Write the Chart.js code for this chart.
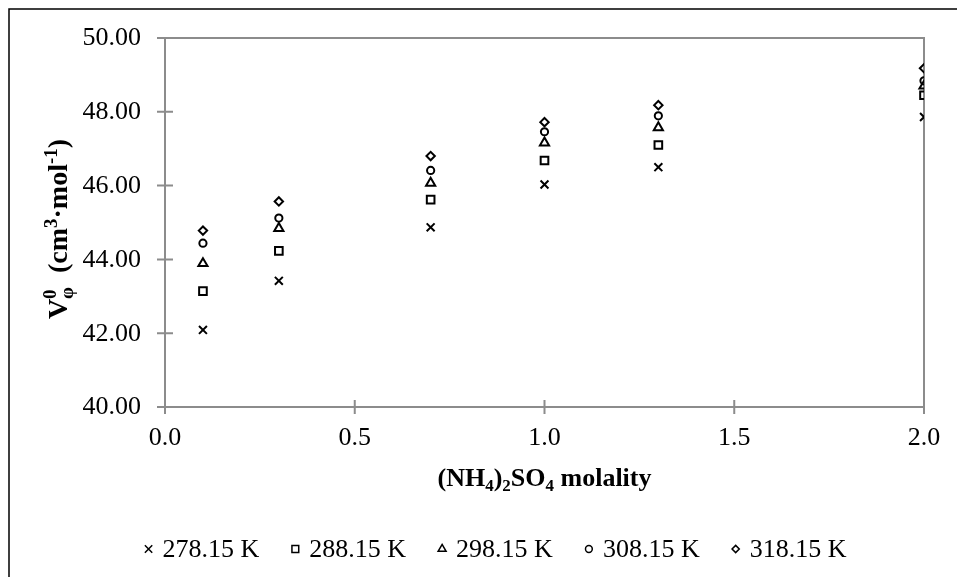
<!DOCTYPE html>
<html>
<head>
<meta charset="utf-8">
<script src="https://cdn.jsdelivr.net/npm/chart.js@4/dist/chart.umd.min.js"></script>
<style>
  html, body { margin: 0; padding: 0; background: #fff; overflow: hidden; }
  #wrap { width: 957px; height: 577px; }
</style>
</head>
<body>
<div id="wrap"><canvas id="c" width="957" height="577"></canvas></div>
<script>
// Apparent molar volume of the solute vs (NH4)2SO4 molality, one series per temperature
const molality = [0.1, 0.3, 0.7, 1.0, 1.3, 2.0];
const temperatures = ['278.15 K', '288.15 K', '298.15 K', '308.15 K', '318.15 K'];
const v278 = [42.09, 43.42, 44.87, 46.03, 46.50, 47.86];
const v288 = [43.14, 44.23, 45.62, 46.68, 47.10, 48.45];
const v298 = [43.89, 44.84, 46.07, 47.16, 47.57, 48.70];
const v308 = [44.44, 45.12, 46.41, 47.46, 47.89, 48.84];
const v318 = [44.78, 45.57, 46.80, 47.72, 48.18, 49.18];
const xTickValues = [0, 0.5, 1.0, 1.5, 2.0];
const yTickValues = [40, 42, 44, 46, 48, 50];

const series = [v278, v288, v298, v308, v318];
const markerStyles = ['crossRot', 'rect', 'triangle', 'circle', 'rectRot'];
const markerRadii = [5.6, 5.4, 5.3, 3.6, 4.2];

const SERIF = "'Liberation Serif', 'Times New Roman', serif";
const AXIS_GREY = '#8c8c8c';

function drawText(ctx, s, x, y, font, align, base) {
  ctx.save();
  ctx.font = font;
  ctx.textAlign = align;
  ctx.textBaseline = base;
  ctx.fillStyle = '#000';
  ctx.fillText(s, x, y);
  ctx.restore();
}

// Runs of text with sub/superscripts, centred on (x, y) baseline, optionally rotated
function drawRich(ctx, pieces, x, y, rot) {
  ctx.save();
  ctx.translate(x, y);
  if (rot) ctx.rotate(rot);
  ctx.fillStyle = '#000';
  ctx.textBaseline = 'alphabetic';
  ctx.textAlign = 'left';
  const widths = pieces.map(p => {
    if (p.stack) {
      return Math.max(...p.stack.map(q => { ctx.font = q.font; return ctx.measureText(q.t).width; }));
    }
    ctx.font = p.font;
    return ctx.measureText(p.t).width;
  });
  const total = widths.reduce((a, b) => a + b, 0);
  let cx = -total / 2;
  pieces.forEach((p, i) => {
    if (p.stack) {
      p.stack.forEach(q => { ctx.font = q.font; ctx.fillText(q.t, cx, q.dy || 0); });
    } else {
      ctx.font = p.font;
      ctx.fillText(p.t, cx, p.dy || 0);
    }
    cx += widths[i];
  });
  ctx.restore();
}

function drawMarker(ctx, style, r, x, y, lw) {
  ctx.save();
  ctx.strokeStyle = '#000';
  ctx.lineWidth = lw;
  ctx.beginPath();
  if (style === 'crossRot') {
    const o = r * Math.SQRT1_2;
    ctx.moveTo(x - o, y - o); ctx.lineTo(x + o, y + o);
    ctx.moveTo(x - o, y + o); ctx.lineTo(x + o, y - o);
  } else if (style === 'rect') {
    const s = r * Math.SQRT1_2;
    ctx.rect(x - s, y - s, 2 * s, 2 * s);
  } else if (style === 'triangle') {
    const h = r * Math.sqrt(3) / 2;
    ctx.moveTo(x, y - r); ctx.lineTo(x + h, y + r / 2); ctx.lineTo(x - h, y + r / 2); ctx.closePath();
  } else if (style === 'circle') {
    ctx.arc(x, y, r, 0, Math.PI * 2);
  } else if (style === 'rectRot') {
    ctx.moveTo(x, y - r); ctx.lineTo(x + r, y); ctx.lineTo(x, y + r); ctx.lineTo(x - r, y); ctx.closePath();
  }
  ctx.stroke();
  ctx.restore();
}

const framePlugin = {
  id: 'frame',
  beforeDatasetsDraw(chart) {
    const { ctx, chartArea: a, scales } = chart;
    const xs = scales.x, ys = scales.y;
    ctx.save();
    // outer chart border
    ctx.strokeStyle = '#000';
    ctx.lineWidth = 1.5;
    ctx.beginPath();
    ctx.moveTo(9, 577); ctx.lineTo(9, 9); ctx.lineTo(957, 9);
    ctx.stroke();

    // plot area border
    ctx.strokeStyle = AXIS_GREY;
    ctx.lineWidth = 2;
    ctx.strokeRect(a.left, a.top, a.right - a.left, a.bottom - a.top);

    // cross tick marks
    ctx.beginPath();
    yTickValues.forEach(v => {
      const py = ys.getPixelForValue(v);
      ctx.moveTo(a.left - 8, py); ctx.lineTo(a.left + 8, py);
    });
    xTickValues.forEach(v => {
      const px = xs.getPixelForValue(v);
      ctx.moveTo(px, a.bottom - 7); ctx.lineTo(px, a.bottom + 7);
    });
    ctx.stroke();
    ctx.restore();

    const tickFont = '26px ' + SERIF;
    yTickValues.forEach(v => {
      drawText(ctx, v.toFixed(2), a.left - 24, ys.getPixelForValue(v) + 0.5, tickFont, 'right', 'middle');
    });
    xTickValues.forEach(v => {
      drawText(ctx, v.toFixed(1), xs.getPixelForValue(v), 445, tickFont, 'center', 'alphabetic');
    });

    // axis titles
    const B = 'bold 26px ' + SERIF;
    const Bs = 'bold 17px ' + SERIF;
    drawRich(ctx, [
      { t: '(NH', font: B }, { t: '4', font: Bs, dy: 5 }, { t: ')', font: B },
      { t: '2', font: Bs, dy: 5 }, { t: 'SO', font: B }, { t: '4', font: Bs, dy: 5 },
      { t: ' molality', font: B }
    ], (a.left + a.right) / 2, 486, 0);

    const BY = 'bold 28px ' + SERIF;
    const BYs = 'bold 19px ' + SERIF;
    drawRich(ctx, [
      { t: 'V', font: BY },
      { stack: [{ t: 'φ', font: BYs, dy: 6 }, { t: '0', font: BYs, dy: -11 }] },
      { t: '  (cm', font: BY }, { t: '3', font: BYs, dy: -10 }, { t: '·mol', font: BY },
      { t: '-1', font: BYs, dy: -10 }, { t: ')', font: BY }
    ], 67, 229, -Math.PI / 2);

    // legend
    const legFont = '26px ' + SERIF;
    ctx.save();
    ctx.font = legFont;
    const gapText = 14, gapItem = 36;
    const items = temperatures.map(t => ctx.measureText(t).width);
    ctx.restore();
    const total = items.reduce((s, w) => s + gapText + w, 0) + gapItem * (items.length - 1);
    let lx = 497.5 - total / 2;
    temperatures.forEach((t, i) => {
      drawMarker(ctx, markerStyles[i], [5.2, 4.8, 4.6, 3.4, 3.6][i], lx, 549, 1.5);
      drawText(ctx, t, lx + gapText, 557, legFont, 'left', 'alphabetic');
      lx += gapText + items[i] + gapItem;
    });
  }
};

new Chart(document.getElementById('c'), {
  type: 'scatter',
  data: {
    datasets: series.map((vals, i) => ({
      label: temperatures[i],
      data: molality.map((m, j) => ({ x: m, y: vals[j] })),
      pointStyle: markerStyles[i],
      pointRadius: markerRadii[i],
      pointHoverRadius: markerRadii[i],
      pointBorderWidth: 2,
      pointBorderColor: '#000',
      pointBackgroundColor: 'rgba(0,0,0,0)',
      showLine: false
    }))
  },
  options: {
    responsive: false,
    animation: false,
    devicePixelRatio: 1,
    layout: { padding: { left: 165, right: 33, top: 38, bottom: 170 } },
    plugins: { legend: { display: false }, tooltip: { enabled: false } },
    scales: {
      x: { type: 'linear', min: 0, max: 2, display: false },
      y: { type: 'linear', min: 40, max: 50, display: false }
    }
  },
  plugins: [framePlugin]
});
</script>
</body>
</html>
